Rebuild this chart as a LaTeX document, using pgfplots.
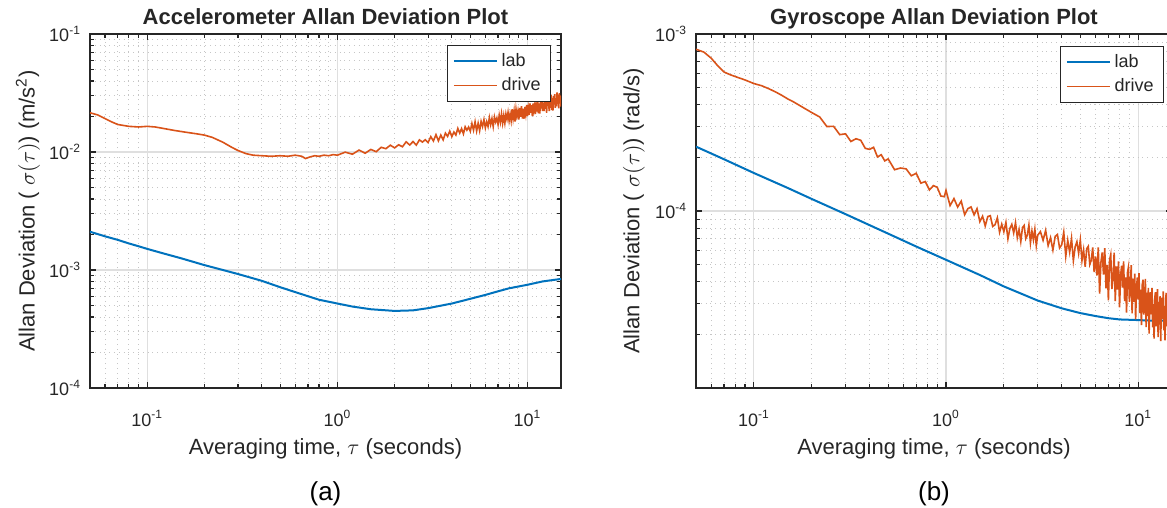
\documentclass[border=0pt]{standalone}
\usepackage{fontspec}
\setmainfont{Liberation Sans}
\usepackage{pgfplots}
\pgfplotsset{compat=1.18}
\definecolor{mblue}{HTML}{0072BD}
\definecolor{morange}{HTML}{D95319}
\definecolor{axgray}{HTML}{262626}

\pgfplotsset{
  adev/.style={
    scale only axis,
    xmin=0.05, xmax=15,
    height=177pt,
    axis line style={axgray, line width=0.7pt},
    tick style={axgray, line width=0.6pt},
    tick align=inside,
    major tick length=3pt, minor tick length=1.8pt,
    xtick={0.1,1,10},
    xticklabels={10\textsuperscript{-1},10\textsuperscript{0},10\textsuperscript{1}},
    minor xtick={0.06,0.07,0.08,0.09,0.2,0.3,0.4,0.5,0.6,0.7,0.8,0.9,2,3,4,5,6,7,8,9},
    grid=both,
    major grid style={gray!25, line width=0.6pt},
    minor grid style={gray!45, dotted, line width=0.4pt},
    tick label style={font=\fontsize{9}{10}\selectfont, text=axgray},
    xticklabel style={anchor=base, yshift=-19pt},
    yticklabel style={xshift=-1pt},
    label style={font=\fontsize{11}{13}\selectfont, text=axgray},
    xlabel style={at={(axis description cs:0.5,0)}, anchor=base, yshift=-33pt},
    title style={at={(axis description cs:0.5,1)}, anchor=base, yshift=-1pt,
      font=\bfseries\fontsize{11}{13}\selectfont, text=axgray},
    legend style={font=\fontsize{9}{10}\selectfont, draw=axgray, text=axgray,
      anchor=north east, cells={anchor=west}},
    legend image code/.code={\draw[##1] (0cm,0cm) -- (0.75cm,0cm);},
    xlabel={Averaging time, $\tau$ (seconds)},
  }
}

\begin{document}
\begin{tikzpicture}

% ---------------- (a) accelerometer ----------------
\begin{axis}[xmode=log, ymode=log, adev, name=left, at={(0,0)}, anchor=south west,
  width=235.5pt,
  ymin=1e-4, ymax=1e-1,
  ytick={1e-4,1e-3,1e-2,1e-1},
  yticklabels={10\textsuperscript{-4},10\textsuperscript{-3},10\textsuperscript{-2},10\textsuperscript{-1}},
  minor ytick={2e-4,3e-4,4e-4,5e-4,6e-4,7e-4,8e-4,9e-4,2e-3,3e-3,4e-3,5e-3,6e-3,7e-3,8e-3,9e-3,2e-2,3e-2,4e-2,5e-2,6e-2,7e-2,8e-2,9e-2},
  title={Accelerometer Allan Deviation Plot},
  ylabel={Allan Deviation ( $\sigma(\tau)$) (m/s\textsuperscript{2})},
  ylabel style={at={(axis description cs:-0.1316,0.5)}, anchor=center},
  legend style={at={(1,1)}, xshift=-5pt, yshift=-5.5pt},
]
\addplot[mblue, line width=1pt] coordinates {
(0.05,2.11e-3) (0.06,1.93e-3) (0.07,1.80e-3) (0.08,1.68e-3) (0.09,1.59e-3)
(0.1,1.51e-3) (0.12,1.39e-3) (0.15,1.26e-3) (0.2,1.10e-3) (0.25,1.00e-3)
(0.3,9.25e-4) (0.4,8.1e-4) (0.5,7.15e-4) (0.6,6.5e-4) (0.7,6.0e-4)
(0.8,5.6e-4) (1.0,5.2e-4) (1.2,4.9e-4) (1.5,4.65e-4) (2.0,4.5e-4)
(2.5,4.55e-4) (3,4.75e-4) (4,5.2e-4) (5,5.7e-4) (6,6.15e-4) (7,6.6e-4)
(8,7.0e-4) (10,7.5e-4) (12,8.0e-4) (15,8.4e-4)
};
\addlegendentry{lab}
\addplot[morange, line width=0.8pt] coordinates {
(0.05,0.0215) (0.055,0.0206) (0.06,0.0192) (0.065,0.0180) (0.07,0.0171)
(0.08,0.0165) (0.09,0.0163) (0.1,0.0165) (0.11,0.0163) (0.12,0.0159)
(0.14,0.0152) (0.16,0.0147) (0.18,0.0143) (0.2,0.0139) (0.22,0.0133)
(0.25,0.0121) (0.28,0.0109) (0.3,0.0103) (0.33,0.0097) (0.36,0.0094)
(0.4,0.0093) (0.45,0.0092) (0.5,0.0093) (0.55,0.0092) (0.6,0.0094)
(0.65,0.0092) (0.68,0.0088) (0.72,0.0091) (0.76,0.0093) (0.8,0.0092)
(0.85,0.0094) (0.9,0.0093) (0.95,0.0095) (1.0,0.0094)
(1.1,0.00997) (1.2,0.00958) (1.3,0.01038) (1.4,0.00977) (1.5,0.01051)
(1.6,0.01006) (1.7,0.01096) (1.8,0.01067) (1.9,0.01142) (2.0,0.01084)
(2.1,0.01151) (2.2,0.01108) (2.3,0.01220) (2.4,0.01147) (2.5,0.01226)
(2.6,0.01144) (2.7,0.01267) (2.8,0.01214) (2.9,0.01271) (3.0,0.01203)
(3.1,0.01349) (3.2,0.01240) (3.3,0.01403) (3.4,0.01244) (3.5,0.01392)
(3.6,0.01267) (3.7,0.01447) (3.8,0.01357) (3.9,0.01502) (4.0,0.01350)
(4.1,0.01477) (4.2,0.01392) (4.3,0.01585) (4.4,0.01446) (4.5,0.01579)
(4.6,0.01425) (4.7,0.01636) (4.8,0.01533) (4.9,0.01627) (5.0,0.01499)
(5.1,0.01743) (5.2,0.01530) (5.3,0.01806) (5.4,0.01507) (5.5,0.01754)
(5.6,0.01516) (5.7,0.01817) (5.8,0.01644) (5.9,0.01881) (6.0,0.01601)
(6.1,0.01807) (6.2,0.01644) (6.3,0.01960) (6.4,0.01706) (6.5,0.01919)
(6.6,0.01642) (6.7,0.01985) (6.8,0.01796) (6.9,0.01941) (7.0,0.01711)
(7.1,0.02043) (7.2,0.01790) (7.3,0.02108) (7.4,0.01754) (7.5,0.02037)
(7.6,0.01757) (7.7,0.02101) (7.8,0.01897) (7.9,0.02167) (8.0,0.01840)
(8.1,0.02092) (8.2,0.01842) (8.3,0.02304) (8.4,0.01919) (8.5,0.02226)
(8.6,0.01808) (8.7,0.02308) (8.8,0.02022) (8.9,0.02227) (9.0,0.01881)
(9.1,0.02365) (9.2,0.01986) (9.3,0.02448) (9.4,0.01923) (9.5,0.02332)
(9.6,0.01916) (9.7,0.02415) (9.8,0.02110) (9.9,0.02500) (10.0,0.02016)
(10.1,0.02350) (10.2,0.02067) (10.3,0.02583) (10.4,0.02149) (10.5,0.02490)
(10.6,0.02020) (10.7,0.02577) (10.8,0.02255) (10.9,0.02481) (11.0,0.02093)
(11.1,0.02629) (11.2,0.02205) (11.3,0.02715) (11.4,0.02132) (11.5,0.02583)
(11.6,0.02119) (11.7,0.02670) (11.8,0.02330) (11.9,0.02758) (12.0,0.02222)
(12.1,0.02612) (12.2,0.02224) (12.3,0.02919) (12.4,0.02326) (12.5,0.02784)
(12.6,0.02144) (12.7,0.02892) (12.8,0.02452) (12.9,0.02754) (13.0,0.02226)
(13.1,0.02946) (13.2,0.02372) (13.3,0.03058) (13.4,0.02267) (13.5,0.02873)
(13.6,0.02244) (13.7,0.02985) (13.8,0.02523) (13.9,0.03098) (14.0,0.02372)
(14.1,0.02862) (14.2,0.02435) (14.3,0.03193) (14.4,0.02543) (14.5,0.03041)
(14.6,0.02340) (14.7,0.03155) (14.8,0.02673) (14.9,0.02999) (15.0,0.02422)
};
\addlegendentry{drive}
\end{axis}
\node[anchor=base, yshift=-56.5pt, font=\fontsize{13}{15}\selectfont] at (left.south) {(a)};

% ---------------- (b) gyroscope ----------------
\begin{axis}[xmode=log, ymode=log, adev, name=right, at={(303pt,0)}, anchor=south west,
  width=238pt,
  ymin=1e-5, ymax=1e-3,
  ytick={1e-5,1e-4,1e-3},
  yticklabels={,10\textsuperscript{-4},10\textsuperscript{-3}},
  minor ytick={2e-5,3e-5,4e-5,5e-5,6e-5,7e-5,8e-5,9e-5,2e-4,3e-4,4e-4,5e-4,6e-4,7e-4,8e-4,9e-4},
  title={Gyroscope Allan Deviation Plot},
  ylabel={Allan Deviation ( $\sigma(\tau)$) (rad/s)},
  ylabel style={at={(axis description cs:-0.1303,0.5)}, anchor=center},
  legend style={at={(1,1)}, xshift=-4pt, yshift=-6pt},
]
\addplot[mblue, line width=1pt] coordinates {
(0.05,2.31e-4) (0.07,1.96e-4) (0.1,1.64e-4) (0.15,1.35e-4) (0.2,1.17e-4)
(0.3,9.6e-5) (0.5,7.45e-5) (0.7,6.3e-5) (1.0,5.3e-5) (1.5,4.35e-5)
(2,3.75e-5) (3,3.12e-5) (4,2.82e-5) (5,2.65e-5) (6,2.55e-5) (7,2.48e-5)
(8,2.44e-5) (10,2.42e-5) (12,2.40e-5) (15,2.40e-5)
};
\addlegendentry{lab}
\addplot[morange, line width=0.8pt] coordinates {
(0.05,8.2e-4) (0.055,7.9e-4) (0.06,7.3e-4) (0.065,6.6e-4) (0.07,6.1e-4)
(0.075,5.9e-4) (0.08,5.75e-4) (0.09,5.5e-4) (0.1,5.25e-4) (0.11,5.1e-4)
(0.12,4.9e-4) (0.13,4.7e-4) (0.14,4.5e-4) (0.15,4.3e-4) (0.16,4.15e-4)
(0.18,3.85e-4) (0.2,3.6e-4)
(0.22,3.40e-4) (0.24,3.00e-4) (0.26,3.01e-4) (0.28,2.70e-4) (0.30,2.73e-4)
(0.32,2.47e-4) (0.34,2.56e-4) (0.36,2.51e-4) (0.38,2.26e-4) (0.40,2.23e-4)
(0.42,2.29e-4) (0.44,2.02e-4) (0.46,2.08e-4) (0.48,1.92e-4) (0.50,1.97e-4)
(0.54,1.711e-4) (0.58,1.750e-4) (0.62,1.730e-4) (0.66,1.581e-4) (0.70,1.634e-4)
(0.74,1.437e-4) (0.78,1.467e-4) (0.82,1.316e-4) (0.86,1.391e-4) (0.90,1.362e-4)
(0.94,1.215e-4) (0.98,1.205e-4)
(1.00,1.308e-4) (1.05,1.073e-4) (1.10,1.176e-4) (1.15,1.053e-4) (1.20,1.137e-4)
(1.25,0.953e-4) (1.30,1.032e-4) (1.35,1.054e-4) (1.40,0.951e-4) (1.45,1.030e-4)
(1.50,0.871e-4) (1.55,0.934e-4) (1.60,0.823e-4) (1.65,0.931e-4) (1.70,0.941e-4)
(1.75,0.818e-4) (1.80,0.837e-4) (1.85,0.915e-4) (1.90,0.759e-4) (1.95,0.842e-4)
(2.00,0.764e-4) (2.05,0.863e-4) (2.10,0.697e-4) (2.15,0.797e-4) (2.20,0.840e-4)
(2.25,0.752e-4) (2.30,0.860e-4) (2.35,0.707e-4) (2.40,0.786e-4) (2.45,0.672e-4)
(2.50,0.806e-4) (2.55,0.829e-4) (2.60,0.698e-4) (2.65,0.730e-4) (2.70,0.833e-4)
(2.75,0.660e-4) (2.80,0.771e-4) (2.85,0.688e-4) (2.90,0.789e-4) (2.95,0.637e-4)
(3.00,0.729e-4)
(3.1,0.765e-4) (3.2,0.683e-4) (3.3,0.778e-4) (3.4,0.638e-4) (3.5,0.707e-4)
(3.6,0.602e-4) (3.7,0.719e-4) (3.8,0.737e-4) (3.9,0.618e-4) (4.0,0.644e-4)
(4.1,0.759e-4) (4.2,0.555e-4) (4.3,0.683e-4) (4.4,0.585e-4) (4.5,0.701e-4)
(4.6,0.524e-4) (4.7,0.628e-4) (4.8,0.671e-4) (4.9,0.577e-4) (5.0,0.686e-4)
(5.1,0.526e-4) (5.2,0.603e-4) (5.3,0.484e-4) (5.4,0.613e-4) (5.5,0.632e-4)
(5.6,0.499e-4) (5.7,0.527e-4) (5.8,0.622e-4) (5.9,0.452e-4) (6.0,0.553e-4)
(6.1,0.432e-4) (6.2,0.622e-4) (6.3,0.341e-4) (6.4,0.512e-4) (6.5,0.584e-4)
(6.6,0.438e-4) (6.7,0.616e-4) (6.8,0.366e-4) (6.9,0.496e-4) (7.0,0.313e-4)
(7.1,0.529e-4) (7.2,0.568e-4) (7.3,0.362e-4) (7.4,0.416e-4) (7.5,0.581e-4)
(7.6,0.310e-4) (7.7,0.487e-4) (7.8,0.360e-4) (7.9,0.519e-4) (8.0,0.286e-4)
(8.1,0.429e-4) (8.2,0.491e-4) (8.3,0.369e-4) (8.4,0.520e-4) (8.5,0.310e-4)
(8.6,0.421e-4) (8.7,0.267e-4) (8.8,0.450e-4) (8.9,0.482e-4) (9.0,0.307e-4)
(9.1,0.353e-4) (9.2,0.494e-4) (9.3,0.264e-4) (9.4,0.415e-4) (9.5,0.307e-4)
(9.6,0.443e-4) (9.7,0.244e-4) (9.8,0.367e-4) (9.9,0.421e-4) (10.0,0.316e-4)
(10.1,0.446e-4) (10.2,0.265e-4) (10.3,0.360e-4) (10.4,0.227e-4) (10.5,0.383e-4)
(10.6,0.409e-4) (10.7,0.260e-4) (10.8,0.298e-4) (10.9,0.414e-4) (11.0,0.221e-4)
(11.1,0.346e-4) (11.2,0.255e-4) (11.3,0.368e-4) (11.4,0.203e-4) (11.5,0.304e-4)
(11.6,0.348e-4) (11.7,0.261e-4) (11.8,0.368e-4) (11.9,0.220e-4) (12.0,0.298e-4)
(12.1,0.190e-4) (12.2,0.322e-4) (12.3,0.348e-4) (12.4,0.223e-4) (12.5,0.257e-4)
(12.6,0.362e-4) (12.7,0.194e-4) (12.8,0.307e-4) (12.9,0.228e-4) (13.0,0.330e-4)
(13.1,0.184e-4) (13.2,0.280e-4) (13.3,0.324e-4) (13.4,0.246e-4) (13.5,0.351e-4)
(13.6,0.212e-4) (13.7,0.291e-4) (13.8,0.186e-4) (13.9,0.318e-4) (14.0,0.345e-4)
(14.1,0.223e-4) (14.2,0.258e-4) (14.3,0.365e-4) (14.4,0.197e-4) (14.5,0.313e-4)
(14.6,0.234e-4) (14.7,0.341e-4) (14.8,0.260e-4) (15.0,0.290e-4)
};
\addlegendentry{drive}
\end{axis}
\node[anchor=base, yshift=-56.5pt, font=\fontsize{13}{15}\selectfont] at (right.south) {(b)};

\pgfresetboundingbox
\useasboundingbox (-45pt,-60pt) rectangle (538.5pt,194pt);
\end{tikzpicture}
\end{document}
